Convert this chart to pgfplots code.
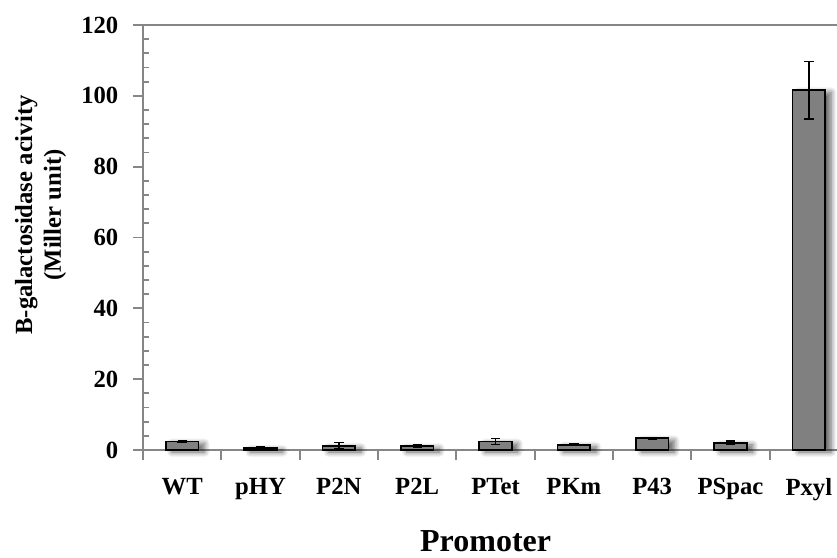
\documentclass[border=0pt]{standalone}
\usepackage{pgfplots}
\pgfplotsset{compat=1.18}
\usepackage{fontspec}
\setmainfont{Liberation Serif}
\usetikzlibrary{shadows.blur}

\definecolor{axisgray}{RGB}{134,134,134}
\definecolor{barfill}{RGB}{128,128,128}

\pgfplotstableread{
x   y      err
0   2.4    0.3
1   0.6    0.2
2   1.2    0.9
3   1.1    0.3
4   2.4    0.9
5   1.5    0.3
6   3.3    0.3
7   2.0    0.5
8   101.6  8.1
}\activity

\begin{document}
\begin{tikzpicture}
\begin{axis}[
  at={(0,0)}, anchor=south west,
  scale only axis,
  width=528.75pt, height=318.75pt,
  xmin=-0.5, xmax=8.5,
  ymin=0, ymax=120,
  ytick={0,20,...,120},
  minor y tick num=4,
  xtick={-0.5,0.5,...,7.5},
  xticklabels={WT,pHY,P2N,P2L,PTet,PKm,P43,PSpac,Pxyl},
  xticklabel style={xshift=29.375pt, yshift=-10pt},
  yticklabel style={xshift=-7.5pt},
  tick pos=left,
  tick align=outside,
  major tick length=7.5pt,
  minor tick length=-4.5pt,
  axis line style={draw=axisgray, line width=1.4pt},
  every tick/.style={draw=axisgray, line width=1.4pt},
  ticklabel style={font=\fontsize{18.5}{22}\selectfont\bfseries},
  /pgf/number format/assume math mode=true,
  ylabel={B-galactosidase acivity\\(Miller unit)},
  ylabel style={font=\fontsize{18.5}{21.5}\selectfont\bfseries, align=center,
    at={(axis description cs:-0.1453,0.553)}, anchor=center},
  xlabel={Promoter},
  xlabel style={font=\fontsize{24}{28}\selectfont\bfseries,
    at={(axis description cs:0.486,-0.214)}, anchor=center},
  clip=false,
]
% bars with a soft shadow
\addplot[ybar, bar width=0.42, fill=barfill, draw=black, line width=1.3pt,
  blur shadow={shadow xshift=4.5pt, shadow yshift=-1.5pt, shadow opacity=60,
               shadow blur radius=4pt, shadow blur steps=10}]
  table[x=x, y=y] {\activity};
% error bars drawn on their own
\addplot[draw=none, mark=none,
  error bars/.cd, y dir=both, y explicit,
  error bar style={black, line width=1.1pt},
  error mark options={rotate=90, mark size=3.5pt, line width=1.1pt, black}]
  table[x=x, y=y, y error=err] {\activity};
\end{axis}
\pgfresetboundingbox
\useasboundingbox (-107.25pt,-80.25pt) rectangle (520.5pt,337.5pt);
\end{tikzpicture}
\end{document}
